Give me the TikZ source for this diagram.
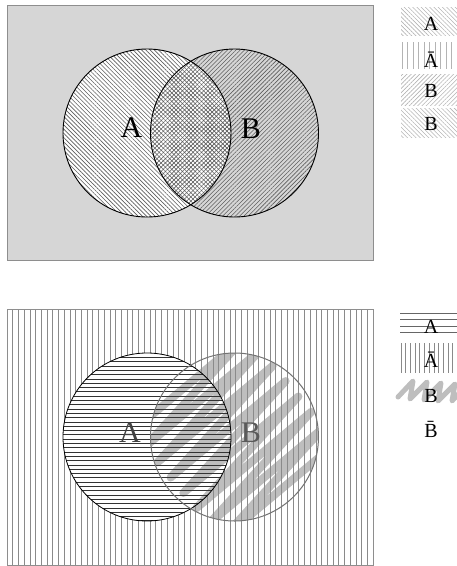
\documentclass[tikz,border=0pt]{standalone}
\usepackage{fontspec}
\setmainfont{Liberation Serif}
\usetikzlibrary{patterns.meta}
\definecolor{bggray}{HTML}{D6D6D6}
\definecolor{framegray}{HTML}{8E8E8E}
\definecolor{hatchdark}{HTML}{5E5E5E}
\definecolor{hatchlight}{HTML}{B4B4B4}
\definecolor{vlinegray}{HTML}{8A8A8A}
\definecolor{scribblegray}{HTML}{BEBEBE}
\definecolor{labelA}{HTML}{404040}
\definecolor{labelB}{HTML}{5A5A5A}
\tikzset{
  biglabel/.style={anchor=base, inner sep=0pt, font=\fontsize{30}{30}\selectfont},
  leglabel/.style={anchor=base, inner sep=0pt, font=\fontsize{20}{20}\selectfont},
  nwhatch/.style={pattern={Lines[angle=-45,distance=3pt,line width=0.6pt]}, pattern color=#1},
  nehatch/.style={pattern={Lines[angle=45,distance=3pt,line width=0.6pt]}, pattern color=#1},
  vline/.style={draw=vlinegray, line width=0.7pt},
  hline/.style={draw=black!80, line width=0.6pt},
  scribble/.style={draw=scribblegray, line width=8pt, line join=round, line cap=round},
  frame/.style={draw=framegray, line width=0.9pt},
}
\begin{document}
\begin{tikzpicture}[x=1pt,y=-1pt]
\useasboundingbox (0,0) rectangle (457,566);

% ---------------- top panel ----------------
\draw[frame, fill=bggray] (7,5) rectangle (373,260);
\fill[white] (147,133) circle[radius=84pt];
\fill[nwhatch=hatchdark] (147,133) circle[radius=84pt];
\fill[nehatch=hatchdark] (234.5,133) circle[radius=84pt];
\draw[line width=0.9pt] (147,133) circle[radius=84pt];
\draw[line width=0.9pt] (234.5,133) circle[radius=84pt];
\node[biglabel] (tA) at (131.5,137) {A};
\node[biglabel] (tB) at (251,138) {B};

% top legend
\fill[nwhatch=hatchlight] (401,7) rectangle (457,35);
\begin{scope}
  \clip (401,42) rectangle (457,69);
  \foreach \i in {0,...,10} \draw[draw=hatchlight, line width=0.7pt] ({402+5.5*\i},42) -- ({402+5.5*\i},69);
\end{scope}
\fill[nehatch=hatchlight] (401,74) rectangle (457,105);
\fill[nwhatch=hatchlight] (401,108) rectangle (457,137);
\node[leglabel] (lgA) at (431,30) {A};
\node[leglabel] (lgAbar) at (431,67) {Ā};
\node[leglabel] (lgB1) at (431,97) {B};
\node[leglabel] (lgB2) at (431,130) {B};

% ---------------- bottom panel ----------------
\fill[white] (7,309) rectangle (373,565);
\begin{scope}
  \clip (234.5,437) circle[radius=84pt];
  \draw[scribble] (132.0,431.6) -- (247.0,335.2) -- (144.9,446.9) -- (259.9,350.5)
    -- (157.7,462.2) -- (272.7,365.8) -- (170.6,477.5) -- (285.6,381.1)
    -- (183.4,492.9) -- (298.4,396.5) -- (196.3,508.2) -- (311.3,411.8)
    -- (209.2,523.5) -- (324.2,427.1) -- (222.0,538.8) -- (337.0,442.4);
\end{scope}
\begin{scope}[even odd rule]
  \clip (7,309) rectangle (373,565) (147,437) circle[radius=84pt];
  \foreach \i in {0,...,64} \draw[vline] ({7+5.72*\i},309) -- ({7+5.72*\i},565);
\end{scope}
\begin{scope}
  \clip (147,437) circle[radius=84pt];
  \foreach \i in {1,...,39} \draw[hline] (60,{353+4.3*\i}) -- (235,{353+4.3*\i});
\end{scope}
\draw[frame] (7,309) rectangle (373,565);
\draw[draw=black, line width=0.8pt] (147,437) circle[radius=84pt];
\draw[draw=black!55, line width=1pt] (234.5,437) circle[radius=84pt];
\node[biglabel, text=labelA] (bA) at (130,442) {A};
\node[biglabel, text=labelB] (bB) at (251,442) {B};

% bottom legend
\foreach \y in {313,319.5,326,332.5} \draw[draw=black!60, line width=0.6pt] (400,\y) -- (457,\y);
\foreach \i in {0,...,12} \draw[draw=vlinegray, line width=0.7pt] ({401+4.7*\i},343) -- ({401+4.7*\i},373);
\draw[scribble, line width=5pt] (398,397) -- (413,381) -- (410,399) -- (427,382) -- (424,400)
  -- (441,383) -- (438,401) -- (455,384) -- (452,401) -- (466,386);
\node[leglabel] (lbA) at (431,333) {A};
\node[leglabel] (lbAbar) at (431,367) {Ā};
\node[leglabel] (lbB) at (431,402) {B};
\node[leglabel] (lbBbar) at (431,437) {B̄};
\end{tikzpicture}
\end{document}
